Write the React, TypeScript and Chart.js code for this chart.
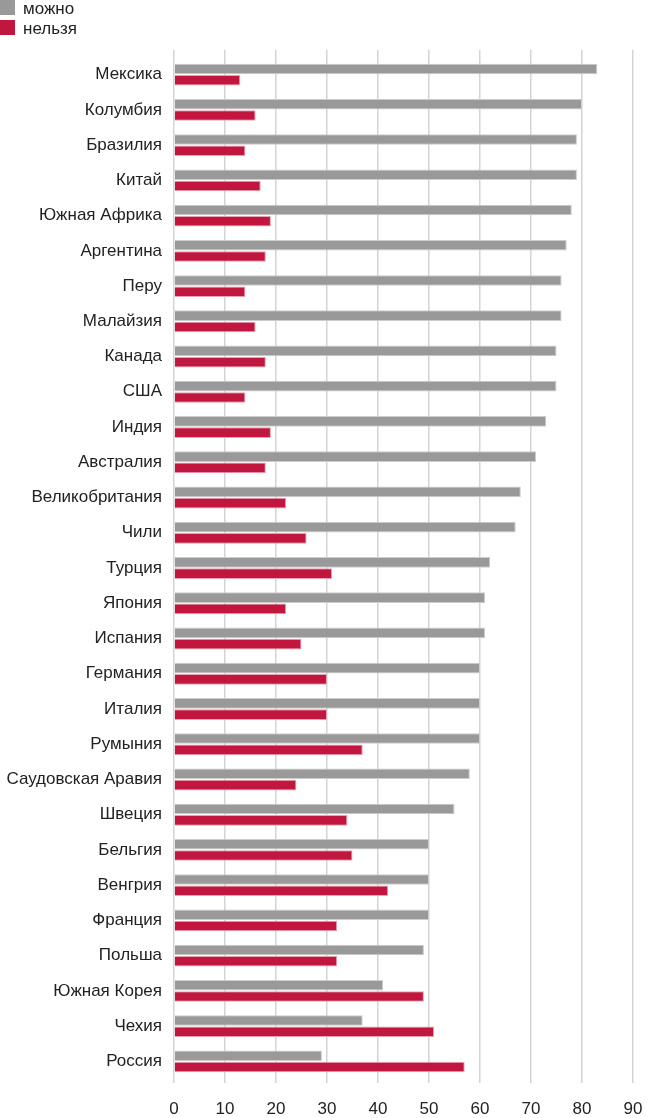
import React, { useEffect, useRef } from "react";
import { Chart, registerables } from "chart.js";

Chart.register(...registerables);

const categories = [
  "Мексика", "Колумбия", "Бразилия", "Китай", "Южная Африка", "Аргентина", "Перу",
  "Малайзия", "Канада", "США", "Индия", "Австралия", "Великобритания", "Чили",
  "Турция", "Япония", "Испания", "Германия", "Италия", "Румыния", "Саудовская Аравия",
  "Швеция", "Бельгия", "Венгрия", "Франция", "Польша", "Южная Корея", "Чехия", "Россия",
];

const canValues = [83, 80, 79, 79, 78, 77, 76, 76, 75, 75, 73, 71, 68, 67, 62, 61, 61, 60, 60, 60, 58, 55, 50, 50, 50, 49, 41, 37, 29];
const cannotValues = [13, 16, 14, 17, 19, 18, 14, 16, 18, 14, 19, 18, 22, 26, 31, 22, 25, 30, 30, 37, 24, 34, 35, 42, 32, 32, 49, 51, 57];

const seriesNames = ["можно", "нельзя"];
const xTicks = [0, 10, 20, 30, 40, 50, 60, 70, 80, 90];

const GREY = "#999999";
const RED = "#c1163d";
const FONT = "'Liberation Sans', Arial, sans-serif";

export default function App() {
  const ref = useRef<HTMLCanvasElement | null>(null);

  useEffect(() => {
    if (!ref.current) return;
    const chart = new Chart(ref.current, {
      type: "bar",
      data: {
        labels: categories,
        datasets: [
          {
            label: seriesNames[0],
            data: canValues,
            backgroundColor: GREY,
            borderColor: "#cccccc",
            borderWidth: 1,
            categoryPercentage: 0.64,
            barPercentage: 0.94,
          },
          {
            label: seriesNames[1],
            data: cannotValues,
            backgroundColor: RED,
            borderColor: "#e6a3b2",
            borderWidth: 1,
            categoryPercentage: 0.64,
            barPercentage: 0.94,
          },
        ],
      },
      options: {
        indexAxis: "y",
        animation: false,
        responsive: false,
        maintainAspectRatio: false,
        layout: { padding: { top: 50, right: 18, left: 0, bottom: 0 } },
        plugins: { legend: { display: false }, tooltip: { enabled: false } },
        scales: {
          x: {
            type: "linear",
            position: "bottom",
            min: 0,
            max: 90,
            afterBuildTicks: (scale: any) => {
              scale.ticks = xTicks.map((v) => ({ value: v }));
            },
            afterFit: (scale: any) => {
              scale.height = 39;
              scale.paddingRight = 0;
              scale.paddingLeft = 0;
            },
            grid: { color: "#d4d4d4", lineWidth: 1.5, tickLength: 4, drawTicks: true },
            border: { display: false },
            ticks: { color: "#222", font: { family: FONT, size: 17 }, padding: 16, maxRotation: 0 },
          },
          x2: {
            type: "linear",
            position: "top",
            min: 0,
            max: 90,
            afterBuildTicks: (scale: any) => {
              scale.ticks = xTicks.map((v) => ({ value: v }));
            },
            grid: { color: "#d4d4d4", lineWidth: 1.5, tickLength: 7, drawOnChartArea: false, drawTicks: true },
            border: { display: false },
            ticks: { display: false },
          },
          y: {
            type: "category",
            grid: { display: false, drawTicks: false },
            border: { display: false },
            afterFit: (scale: any) => {
              scale.width = 174;
              scale.paddingTop = 0;
              scale.paddingBottom = 0;
            },
            ticks: { color: "#222", font: { family: FONT, size: 17 }, padding: 12, autoSkip: false },
          },
        },
      },
    });
    return () => chart.destroy();
  }, []);

  const legendItem = (color: string, text: string) => (
    <div style={{ display: "flex", alignItems: "center", height: 20 }}>
      <span style={{ display: "inline-block", width: 15, height: 15, background: color, marginRight: 8 }} />
      <span style={{ fontFamily: FONT, fontSize: 17, color: "#222", lineHeight: "20px", position: "relative", top: 2 }}>{text}</span>
    </div>
  );

  return (
    <div style={{ position: "absolute", left: 0, top: 0, width: 651, height: 1118 }}>
      <canvas ref={ref} width={651} height={1118} style={{ width: 651, height: 1118, display: "block" }} />
      <div style={{ position: "absolute", left: 0, top: -3 }}>
        {legendItem(GREY, seriesNames[0])}
        {legendItem(RED, seriesNames[1])}
      </div>
    </div>
  );
}
